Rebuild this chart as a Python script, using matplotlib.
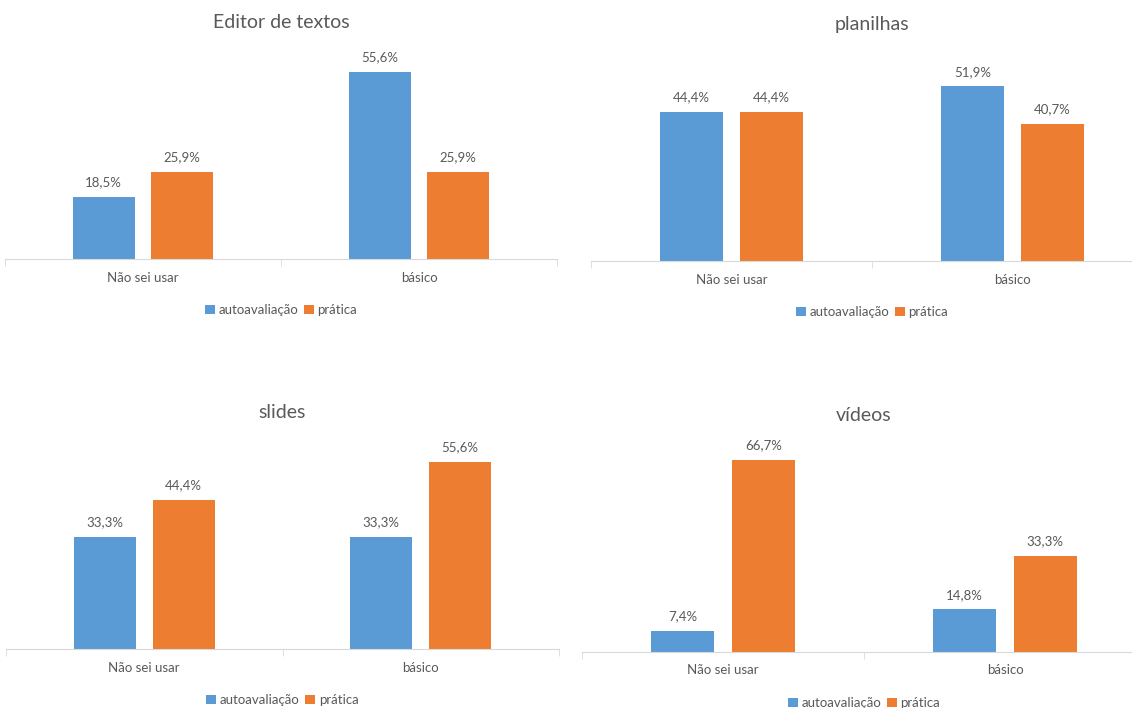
import matplotlib.pyplot as plt
import numpy as np

# dados
categorias = ["Não sei usar", "básico"]
series = ["autoavaliação", "prática"]
titulos = ["Editor de textos", "planilhas", "slides", "vídeos"]
editor_auto = [18.5, 55.6]
editor_prat = [25.9, 25.9]
planilhas_auto = [44.4, 51.9]
planilhas_prat = [44.4, 40.7]
slides_auto = [33.3, 33.3]
slides_prat = [44.4, 55.6]
videos_auto = [7.4, 14.8]
videos_prat = [66.7, 33.3]

plt.rcParams['font.family'] = ['Lato', 'DejaVu Sans']
cinza = "#595959"
azul = "#5B9BD5"
laranja = "#ED7D31"

W, H = 1132, 708
fig = plt.figure(figsize=(W / 100, H / 100), dpi=100)

# caixas em pixels: (esquerda, base, largura, altura, ymax)
caixas = [
    (5, 259, 552, 202, 60),
    (591, 261, 562, 202, 60),
    (6, 649, 553, 202, 60),
    (582, 652, 564, 202, 70),
]
dados = [
    (editor_auto, editor_prat),
    (planilhas_auto, planilhas_prat),
    (slides_auto, slides_prat),
    (videos_auto, videos_prat),
]

larg = 0.224
desl = 0.1426
x = np.arange(len(categorias))

for (esq, base, lw, alt, ymax), (auto, prat), titulo in zip(caixas, dados, titulos):
    ax = fig.add_axes([esq / W, (H - base) / H, lw / W, alt / H])
    ax.set_xlim(-0.5, 1.5)
    ax.set_ylim(0, ymax)
    b1 = ax.bar(x - desl, auto, larg, color=azul, label=series[0])
    b2 = ax.bar(x + desl, prat, larg, color=laranja, label=series[1])
    for barras in (b1, b2):
        for r in barras:
            v = r.get_height()
            ax.annotate(f"{v:.1f}%".replace(".", ","),
                        (r.get_x() + r.get_width() / 2, v),
                        xytext=(0, 6), textcoords="offset points",
                        ha="center", va="bottom", fontsize=9.5, color=cinza)
    for s in ("top", "right", "left"):
        ax.spines[s].set_visible(False)
    ax.spines["bottom"].set_color("#D9D9D9")
    ax.set_yticks([])
    ax.set_xticks(x)
    ax.set_xticklabels(categorias, fontsize=9.5, color=cinza)
    ax.tick_params(axis="x", length=0, pad=9)
    ax.set_xticks([-0.5, 0.5, 1.5], minor=True)
    ax.tick_params(axis="x", which="minor", length=5, color="#D9D9D9")
    ax.set_title(titulo, fontsize=14, color=cinza, pad=21)
    ax.legend(loc="center", bbox_to_anchor=(0.5, -51 / alt), ncol=2,
              frameon=False, fontsize=9.5, labelcolor=cinza,
              handlelength=0.75, handleheight=0.75, handletextpad=0.3,
              columnspacing=0.4)

plt.savefig("out.png", dpi=100)
